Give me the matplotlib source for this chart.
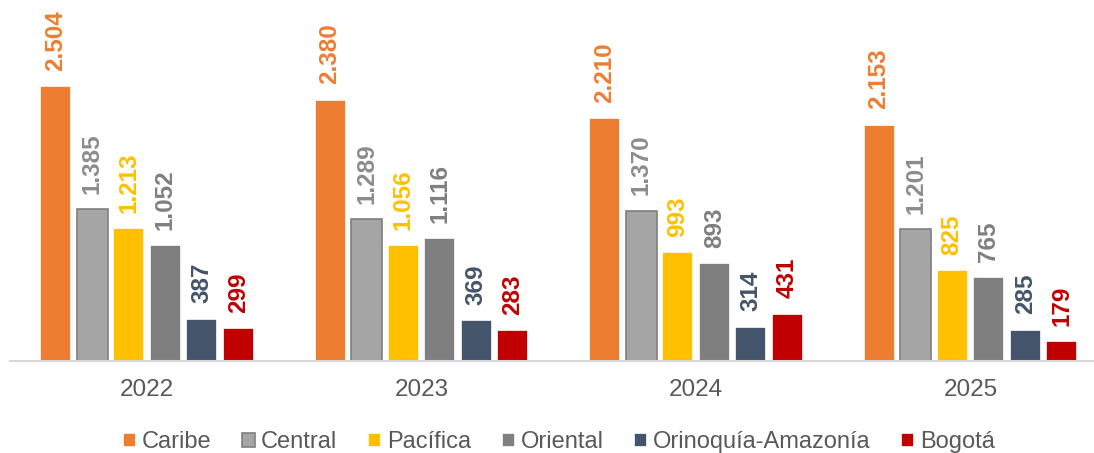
import matplotlib.pyplot as plt
import numpy as np

plt.rcParams['font.family'] = ['Liberation Sans', 'DejaVu Sans']

years = ['2022', '2023', '2024', '2025']
regions = ['Caribe', 'Central', 'Pacífica', 'Oriental', 'Orinoquía-Amazonía', 'Bogotá']
caribe = [2504, 2380, 2210, 2153]
central = [1385, 1289, 1370, 1201]
pacifica = [1213, 1056, 993, 825]
oriental = [1052, 1116, 893, 765]
orinoquia = [387, 369, 314, 285]
bogota = [299, 283, 431, 179]
series = [caribe, central, pacifica, oriental, orinoquia, bogota]

bar_colors = ['#ED7D31', '#A5A5A5', '#FFC000', '#7F7F7F', '#44546A', '#C00000']
edge_colors = ['white', '#7F7F7F', 'white', 'white', 'white', 'white']
label_colors = ['#ED7D31', '#8C8C8C', '#FFC000', '#7F7F7F', '#44546A', '#C00000']

fig = plt.figure(figsize=(10.94, 4.53), dpi=100)
# axes spans past the right edge so the four groups keep their spacing
ax = fig.add_axes([9.75 / 1094, 92 / 453, 1098 / 1094, 361 / 453])

x = np.arange(len(years))
pitch = 0.1333
width = 0.113
for i, (vals, name) in enumerate(zip(series, regions)):
    pos = x + (i - 2.5) * pitch
    bars = ax.bar(pos, vals, width, color=bar_colors[i], edgecolor=edge_colors[i],
                  linewidth=1.2, label=name)
    for b, v in zip(bars, vals):
        ax.annotate(f'{v:,}'.replace(',', '.'),
                    (b.get_x() + b.get_width() / 2, b.get_height()),
                    xytext=(0, 11), textcoords='offset points',
                    rotation=90, ha='center', va='bottom',
                    fontsize=17.5, fontweight='bold', color=label_colors[i])

ax.set_xlim(-0.5, 3.5)
ax.set_ylim(0, 3288)
ax.set_xticks(x)
ax.set_xticklabels(years, fontsize=17.5, color='#595959')
ax.tick_params(axis='x', length=0, pad=13)
ax.set_yticks([])
for s in ['top', 'right', 'left']:
    ax.spines[s].set_visible(False)
ax.spines['bottom'].set_color('#D9D9D9')
ax.spines['bottom'].set_linewidth(1.5)

leg = fig.legend(loc='center', bbox_to_anchor=(0.511, 0.024), ncol=6, frameon=False,
                 fontsize=17, handlelength=0.55, handleheight=0.55,
                 handletextpad=0.25, columnspacing=1.3, borderaxespad=0)
for t in leg.get_texts():
    t.set_color('#595959')

fig.savefig('out.png', dpi=100)
